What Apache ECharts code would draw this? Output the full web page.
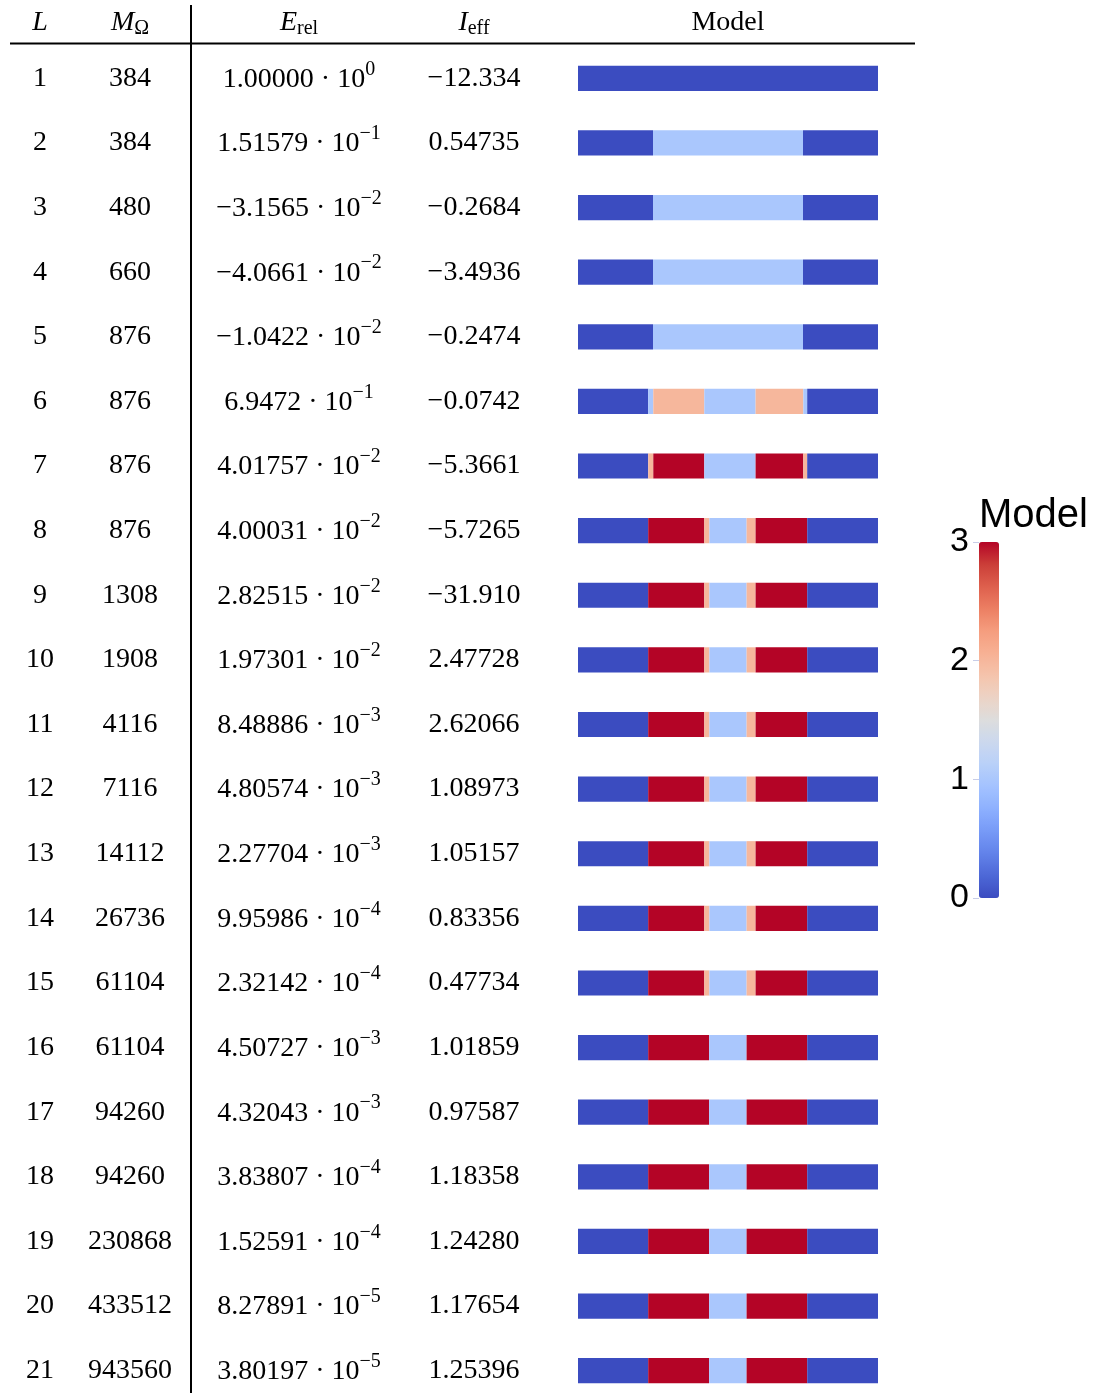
<!DOCTYPE html>
<html>
<head>
<meta charset="utf-8">
<script src="https://cdn.jsdelivr.net/npm/echarts@6/dist/echarts.min.js"></script>
<style>
  html, body { margin: 0; padding: 0; background: #fff; }
  #chart { width: 1101px; height: 1393px; }
</style>
</head>
<body>
<div id="chart"></div>
<script>
// table columns
const levels = ['1', '2', '3', '4', '5', '6', '7', '8', '9', '10', '11', '12', '13', '14', '15', '16', '17', '18', '19', '20', '21'];
const meshSizes = ['384', '384', '480', '660', '876', '876', '876', '876', '1308', '1908', '4116', '7116', '14112', '26736', '61104', '61104', '94260', '94260', '230868', '433512', '943560'];
const errMantissa = ['1.00000', '1.51579', '\u22123.1565', '\u22124.0661', '\u22121.0422', '6.9472', '4.01757', '4.00031', '2.82515', '1.97301', '8.48886', '4.80574', '2.27704', '9.95986', '2.32142', '4.50727', '4.32043', '3.83807', '1.52591', '8.27891', '3.80197'];
const errExponent = ['0', '\u22121', '\u22122', '\u22122', '\u22122', '\u22121', '\u22122', '\u22122', '\u22122', '\u22122', '\u22123', '\u22123', '\u22123', '\u22124', '\u22124', '\u22123', '\u22123', '\u22124', '\u22124', '\u22125', '\u22125'];
const effIndex = ['\u221212.334', '0.54735', '\u22120.2684', '\u22123.4936', '\u22120.2474', '\u22120.0742', '\u22125.3661', '\u22125.7265', '\u221231.910', '2.47728', '2.62066', '1.08973', '1.05157', '0.83356', '0.47734', '1.01859', '0.97587', '1.18358', '1.24280', '1.17654', '1.25396'];

// model profiles: breakpoints along the bar (0..1) and value in each piece
const cutsFlat = [0, 1];
const valsFlat = [0];
const cutsTwo = [0, 0.25, 0.75, 1];
const valsTwo = [0, 1, 0];
const cutsL6 = [0, 0.234, 0.251, 0.421, 0.592, 0.751, 0.764, 1];
const valsL6 = [0, 1, 2, 1, 2, 1, 0];
const valsL7 = [0, 2, 3, 1, 3, 2, 0];
const cutsL8 = [0, 0.234, 0.421, 0.438, 0.562, 0.592, 0.764, 1];
const valsL8 = [0, 3, 2, 1, 2, 3, 0];
const cutsL16 = [0, 0.234, 0.437, 0.562, 0.764, 1];
const valsL16 = [0, 3, 1, 3, 0];

const rowCuts = [cutsFlat, cutsTwo, cutsTwo, cutsTwo, cutsTwo, cutsL6, cutsL6,
  cutsL8, cutsL8, cutsL8, cutsL8, cutsL8, cutsL8, cutsL8, cutsL8,
  cutsL16, cutsL16, cutsL16, cutsL16, cutsL16, cutsL16];
const rowVals = [valsFlat, valsTwo, valsTwo, valsTwo, valsTwo, valsL6, valsL7,
  valsL8, valsL8, valsL8, valsL8, valsL8, valsL8, valsL8, valsL8,
  valsL16, valsL16, valsL16, valsL16, valsL16, valsL16];

const colorTicks = [0, 1, 2, 3];

const coolwarm = ['#3b4cc0', '#4d68d7', '#6282ea', '#779af7', '#8db0fe', '#a3c2ff', '#b8d0f9',
  '#cbd8ee', '#dddddd', '#ecd3c5', '#f5c4ac', '#f7b194', '#f59d7e', '#ec7f63', '#de604d',
  '#cb3e38', '#b40426'];

const serif = '"Liberation Serif", "Times New Roman", serif';
const sans = '"Liberation Sans", Arial, sans-serif';

const segments = [];
rowCuts.forEach((cuts, r) => {
  rowVals[r].forEach((v, k) => {
    segments.push([cuts[k], cuts[k + 1], r, v]);
  });
});

const gridLeft = 578;

const textAxis = (center, fmt, rich) => ({
  type: 'category',
  gridIndex: 0,
  inverse: true,
  position: 'left',
  offset: gridLeft - center,
  data: levels,
  axisLine: { show: false },
  axisTick: { show: false },
  splitLine: { show: false },
  axisLabel: {
    interval: 0,
    margin: 0,
    align: 'center',
    color: '#000',
    fontFamily: serif,
    fontSize: 28,
    padding: [0, 0, 4, 0],
    formatter: fmt,
    rich: rich
  }
});

const headRich = {
  it: { fontFamily: serif, fontSize: 28, fontStyle: 'italic', color: '#000', lineHeight: 30, verticalAlign: 'top' },
  up: { fontFamily: serif, fontSize: 28, color: '#000', lineHeight: 30, verticalAlign: 'top' },
  sub: { fontFamily: serif, fontSize: 20, color: '#000', lineHeight: 20, verticalAlign: 'bottom' }
};
const header = (x, text) => ({
  type: 'text', x: x, y: 24,
  style: { text: text, rich: headRich, align: 'center', verticalAlign: 'middle' }
});

const chart = echarts.init(document.getElementById('chart'));

chart.setOption({
  backgroundColor: '#fff',
  animation: false,
  grid: [
    { left: gridLeft, top: 46, width: 300, height: 1357, outerBoundsMode: 'none' },
    { left: 979, top: 542, width: 20, height: 356, outerBoundsMode: 'none' }
  ],
  xAxis: [
    { type: 'value', gridIndex: 0, min: 0, max: 1, show: false },
    { type: 'value', gridIndex: 1, min: 0, max: 1, show: false }
  ],
  yAxis: [
    { type: 'category', gridIndex: 0, inverse: true, data: levels, show: false },
    textAxis(40, (v, i) => levels[i]),
    textAxis(130, (v, i) => meshSizes[i]),
    textAxis(299, (v, i) => '{m|' + errMantissa[i] + ' \u00b7 10}{s|' + errExponent[i] + '}', {
      m: { fontFamily: serif, fontSize: 28, color: '#000', lineHeight: 34, verticalAlign: 'bottom' },
      s: { fontFamily: serif, fontSize: 20, color: '#000', lineHeight: 20, verticalAlign: 'top' }
    }),
    textAxis(474, (v, i) => effIndex[i]),
    {
      type: 'value', gridIndex: 1, min: 0, max: 3, interval: 1,
      position: 'left',
      axisLine: { show: false },
      axisTick: { show: true, length: 6, lineStyle: { color: '#c8cde8', width: 1 } },
      splitLine: { show: false },
      axisLabel: {
        margin: 10, color: '#000', fontFamily: sans, fontSize: 34,
        formatter: (v) => colorTicks.includes(v) ? String(v) : ''
      },
      name: 'Model',
      nameLocation: 'end',
      nameGap: 6,
      nameTextStyle: { fontFamily: sans, fontSize: 40, color: '#000', align: 'left', verticalAlign: 'bottom' }
    }
  ],
  visualMap: {
    type: 'continuous',
    min: 0,
    max: 3,
    dimension: 3,
    seriesIndex: 0,
    left: 979,
    top: 542,
    padding: 0,
    itemWidth: 20,
    itemHeight: 356,
    calculable: false,
    hoverLink: false,
    inRange: { color: coolwarm }
  },
  graphic: [
    { type: 'line', shape: { x1: 10, y1: 43.5, x2: 915, y2: 43.5 }, style: { stroke: '#000', lineWidth: 2 } },
    { type: 'line', shape: { x1: 191, y1: 5, x2: 191, y2: 1393 }, style: { stroke: '#000', lineWidth: 2 } },
    header(40, '{it|L}'),
    header(130, '{it|M}{sub|\u03a9}'),
    header(299, '{it|E}{sub|rel}'),
    header(474, '{it|I}{sub|eff}'),
    header(728, '{up|Model}')
  ],
  series: [
    {
      type: 'custom',
      xAxisIndex: 0,
      yAxisIndex: 0,
      encode: { x: [0, 1], y: 2 },
      data: segments,
      renderItem: (params, api) => {
        const row = api.value(2);
        const p0 = api.coord([api.value(0), row]);
        const p1 = api.coord([api.value(1), row]);
        const h = api.size([0, 1])[1] * 0.39;
        return {
          type: 'rect',
          shape: { x: p0[0], y: p0[1] - h / 2, width: p1[0] - p0[0], height: h },
          style: { fill: api.visual('color') }
        };
      }
    }
  ]
});
</script>
</body>
</html>
